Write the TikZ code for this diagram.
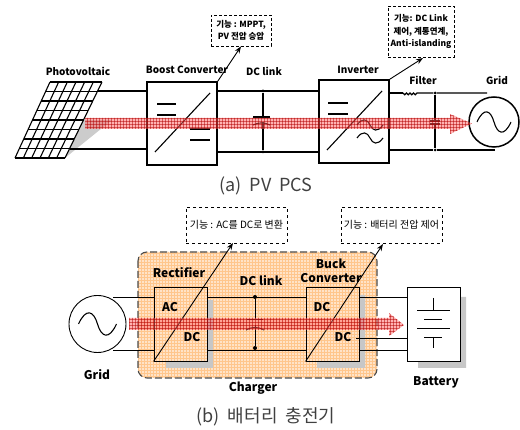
\documentclass[tikz,border=0pt]{standalone}
\usepackage{fontspec}
\setmainfont{Noto Sans CJK KR}
\usetikzlibrary{calc,patterns,arrows.meta}

\tikzset{
    wire/.style={line width=1.1pt},
    wireb/.style={line width=.9pt},
    lbl/.style={font=\fontsize{10}{11}\selectfont\bfseries, inner sep=0pt, align=center},
    lblb/.style={font=\fontsize{12}{13.5}\selectfont\bfseries, inner sep=0pt, align=center},
    note/.style={draw, dashed, fill=white, line width=.8pt, inner sep=0pt, align=center, font=\fontsize{10}{12}\selectfont},
    noteb/.style={note, densely dashed, font=\fontsize{8.5}{12.5}\selectfont\bfseries},
    conv/.style={draw, line width=1.5pt, fill=white, inner sep=0pt},
    convb/.style={draw, wireb, inner sep=0pt},
    dot/.style={circle, fill=black, inner sep=0pt, minimum size=4pt},
    captext/.style={inner sep=0pt, font=\fontsize{18}{20}\selectfont, text=black!75},
    shadowfill/.style={fill=black!22, draw=none},
    flow/.style={fill=red!60, opacity=.5, postaction={pattern=grid, pattern color=red!70!black}},
    tilde/.pic={\draw[wire] (-1,0) .. controls (-.6,-1.5) and (-.2,-1.2) .. (0,0) .. controls (.2,1.2) and (.6,1.5) .. (1,0);}
}

\begin{document}
\begin{tikzpicture}[x=1pt,y=-1pt]
    \useasboundingbox (0,0) rectangle (520,430);

    % (a)
    \fill[black!20] (83,120) -- (112,120) -- (65,158) -- cycle;
    \foreach \i in {0,...,6} {
        \draw[wire] ($(50,82)!\i/6!(102,82)$) -- ($(15,158)!\i/6!(65,158)$);
    }
    \foreach \j in {0,...,8} {
        \draw[wire] ($(50,82)!\j/8!(15,158)$) -- ($(102,82)!\j/8!(65,158)$);
    }
    \node (pvlabel) [lbl] at (78,71) {Photovoltaic};
    \coordinate (pvtop) at (98,91);
    \coordinate (pvbot) at (70,149);

    \node (boost) [conv, minimum width=70pt, minimum height=83pt] at (182,123.5) {};
    \node (inv) [conv, minimum width=70pt, minimum height=83pt] at (354,121.5) {};
    \node (grida) [circle, draw, line width=1.5pt, fill=white, minimum size=50pt, inner sep=0pt] at (494,122) {};
    \node (boostlabel) [lbl] at (187,70) {Boost Converter};
    \node (dclinka) [lbl] at (264,71) {DC link};
    \node (invlabel) [lbl] at (358,70) {Inverter};
    \node (filterlabel) [lbl] at (423,80) {Filter};
    \node (gridalabel) [lbl] at (497,80) {Grid};

    \draw[wire] (pvtop) -- (pvtop -| boost.west);
    \draw[wire] (pvbot) -- (pvbot -| boost.west);
    \coordinate (ltop) at (boost.east |- 0,91);
    \coordinate (lbot) at (boost.east |- 0,152);
    \draw[wire] (ltop) -- (ltop -| inv.west);
    \draw[wire] (lbot) -- (lbot -| inv.west);
    \node (capatop) [dot, minimum size=3pt] at (263,91) {};
    \node (capabot) [dot, minimum size=3pt] at (263,152) {};
    \draw[wire] (capatop) -- (263,117) (263,122) -- (capabot);
    \draw[wire] (253,117) -- (270,117);
    \draw[wire] (253,125) to[bend left=25] (270,125);

    \draw[wire] (155,152) -- (210,93);
    \draw[wire] (157,104) -- (176,104) (157,115) -- (176,115);
    \draw[wire] (190,129) -- (210,129) (190,140) -- (210,140);
    \draw[wire] (327,150) -- (382,91);
    \draw[wire] (328,103) -- (348,103) (328,114) -- (348,114);
    \pic [xscale=13, yscale=5] at (370,125) {tilde};
    \pic [xscale=13, yscale=5] at (370,138) {tilde};

    \coordinate (ftop) at (inv.east |- 0,93);
    \coordinate (fbot) at (inv.east |- 0,150);
    \node (capftop) [dot, minimum size=3pt] at (435,93) {};
    \node (capfbot) [dot, minimum size=3pt] at (435,150) {};
    \draw[wire] (ftop) -- (403,93);
    \draw[wire] (403,93) arc (180:0:1.75) arc (180:0:1.75) arc (180:0:1.75) arc (180:0:1.75) -- (capftop) -- (487,93);
    \draw[wire] (fbot) -- (capfbot) -- (495,150);
    \draw[wire] (capftop) -- (435,121) (435,124) -- (capfbot);
    \draw[wire] (430,121) -- (440,121) (430,124) -- (440,124);
    \pic [xscale=17, yscale=10] at (grida) {tilde};

    \node (notempp) [noteb, minimum width=60pt, minimum height=31pt] at (241,30.5) {기능 : MPPT,\\PV 전압 승압};
    \node (noteinv) [noteb, minimum width=66pt, minimum height=51pt] at (421,31.5) {기능: DC Link\\제어, 계통연계,\\Anti-islanding};
    \draw[-Stealth, wireb] (boost.north east) -- (notempp.south);
    \draw[-Stealth, wireb] (inv.north east) -- (423,58);

    \fill[flow] (85,118) -- (450,118) -- (450,114) -- (472,123.5) -- (450,134) -- (450,129) -- (85,129) -- cycle;

    \node (capa) [captext] at (266,186) {(a)\ \ PV\ \ PCS};

    % (b)
    \path[rounded corners=9pt, fill=orange!22, postaction={pattern=grid, pattern color=orange!45}] (138,252) rectangle (377,378);
    \fill[shadowfill] (207,300) -- (213,300) -- (213,368) -- (166,368) -- (166,361) -- (207,361) -- cycle;
    \fill[shadowfill] (359,295) -- (365,295) -- (365,368) -- (317,368) -- (317,361) -- (359,361) -- cycle;
    \fill[shadowfill] (460,297) -- (466,297) -- (466,368) -- (418,368) -- (418,361) -- (460,361) -- cycle;
    \draw[dash pattern=on 7pt off 3pt, wire, black!70, rounded corners=9pt] (138,252) rectangle (377,378);

    \node (gridb) [circle, draw, wireb, fill=white, minimum size=57pt, inner sep=0pt] at (97.5,324) {};
    \node (rect) [convb, minimum width=53pt, minimum height=74pt] at (180.5,324) {};
    \node (buck) [convb, minimum width=53pt, minimum height=74pt] at (332.5,324) {};
    \node (batt) [convb, fill=white, minimum width=53pt, minimum height=74pt] at (433.5,324) {};
    \pic [xscale=19, yscale=11] at (gridb) {tilde};

    \node (gridblabel) [lblb] at (97,375) {Grid};
    \node (rectlabel) [lblb] at (179,273) {Rectifier};
    \node (dclinkb) [lblb] at (261,281) {DC link};
    \node (bucklabel) [lblb] at (331,271) {Buck\\Converter};
    \node (chargerlabel) [lblb] at (253,388) {Charger};
    \node (battlabel) [lblb] at (436,382) {Battery};
    \node (rectac) [lblb] at (170,307) {AC};
    \node (rectdc) [lblb] at (192,337) {DC};
    \node (buckac) [lblb] at (322,307) {DC};
    \node (buckdc) [lblb] at (343,337) {DC};

    \draw[wireb] (113,297) -- (rect.west |- 0,297);
    \draw[wireb] (113,350) -- (rect.west |- 0,350);
    \draw[wireb] (rect.east |- 0,297) -- (buck.west |- 0,297);
    \draw[wireb] (rect.east |- 0,350) -- (buck.west |- 0,350);
    \draw[wireb] (buck.east |- 0,297) -- (batt.west |- 0,297);
    \draw[wireb] (356,338) -- (batt.west |- 0,338);
    \draw[wireb] (buck.east |- 0,350) -- (batt.west |- 0,350);
    \node (capbtop) [dot] at (255,297) {};
    \node (capbbot) [dot] at (255,348) {};
    \draw[wireb] (capbtop) -- (255,319) (255,325) -- (capbbot);
    \draw[wireb] (247,319) -- (263,319);
    \draw[wireb] (246,330) to[bend left=30] (264,330);

    \draw[wireb] (433,298) -- (433,310) (433,337) -- (433,348);
    \draw[wireb] (417,310) -- (450,310) (424,319) -- (442,319);
    \draw[wireb] (417,328) -- (450,328) (424,337) -- (442,337);

    \node (noterect) [note, minimum width=101pt, minimum height=36pt] at (236.5,225) {기능 : AC를 DC로 변환};
    \node (notebuck) [note, minimum width=101pt, minimum height=36pt] at (391.5,225) {기능 : 배터리 전압 제어};
    \draw[-Stealth, wireb] (rect.south west) -- (233,243);
    \draw[-Stealth, wireb] (buck.south west) -- (383,244);

    \fill[flow] (129,318) -- (389,318) -- (389,313) -- (404,325) -- (389,336) -- (389,330) -- (129,330) -- cycle;

    \node (capb) [captext] at (266,417) {(b)\ \ 배터리\ \ 충전기};
\end{tikzpicture}
\end{document}
